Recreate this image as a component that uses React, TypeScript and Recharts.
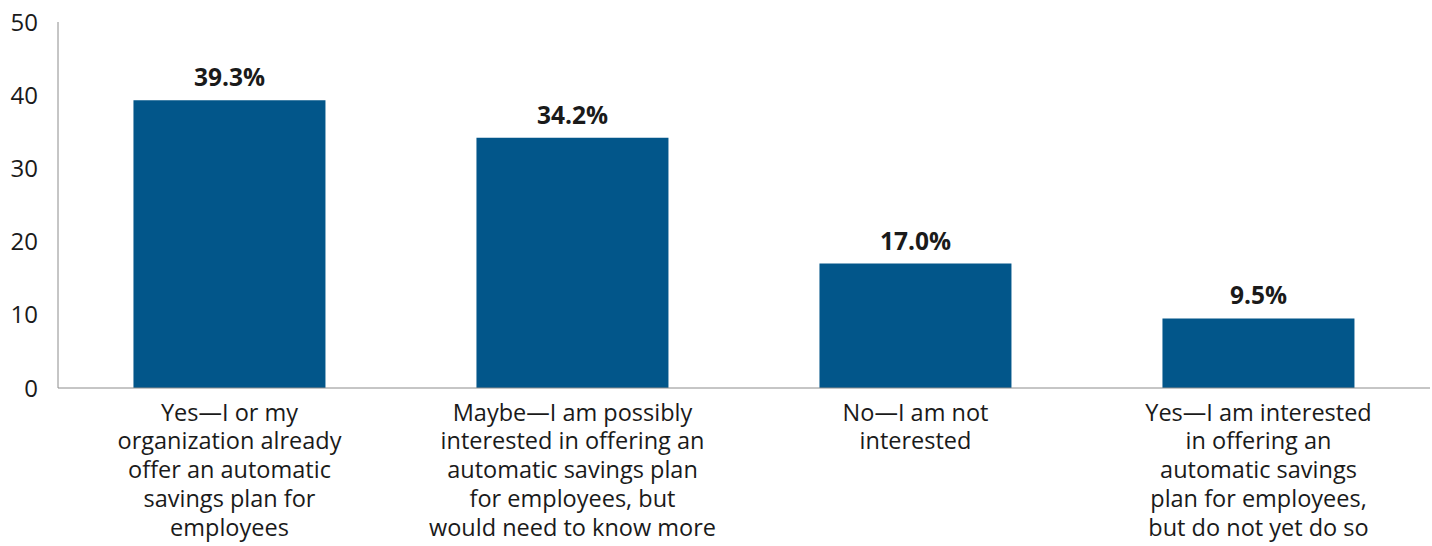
import React from "react";
import { Bar, BarChart, LabelList, XAxis, YAxis } from "recharts";

const answers = [
  "Yes—I or my|organization already|offer an automatic|savings plan for|employees",
  "Maybe—I am possibly|interested in offering an|automatic savings plan|for employees, but|would need to know more",
  "No—I am not|interested",
  "Yes—I am interested|in offering an|automatic savings|plan for employees,|but do not yet do so",
];
const shares = [39.3, 34.2, 17.0, 9.5];
const yTicks = [0, 10, 20, 30, 40, 50];

const data = answers.map((answer, i) => ({ answer, share: shares[i] }));

const FONT = "'Open Sans', 'Noto Sans', sans-serif";

function AnswerTick({ x, y, payload }: any) {
  const lines = String(payload.value).split("|");
  return (
    <text x={x} y={y} textAnchor="middle" fontFamily={FONT} fontSize={23.5} fill="#1a1a1a">
      {lines.map((line, i) => (
        <tspan key={i} x={x} dy={i === 0 ? 24.5 : 28.75}>
          {line}
        </tspan>
      ))}
    </text>
  );
}

export default function App() {
  return (
    <div style={{ position: "absolute", left: 0, top: 0, background: "#fff" }}>
      <BarChart
        width={1432}
        height={546}
        data={data}
        margin={{ top: 22, right: 2, bottom: 0, left: 0 }}
        barCategoryGap="22%"
      >
        <XAxis
          dataKey="answer"
          height={158}
          interval={0}
          tickLine={false}
          stroke="#8c8c8c"
          tick={<AnswerTick />}
        />
        <YAxis
          width={58}
          domain={[0, 50]}
          ticks={yTicks}
          tickLine={false}
          tickSize={0}
          tickMargin={20}
          stroke="#8c8c8c"
          tick={{ fill: "#1a1a1a", fontSize: 24, fontFamily: FONT }}
        />
        <Bar dataKey="share" fill="#02568a" isAnimationActive={false}>
          <LabelList
            dataKey="share"
            position="top"
            offset={14}
            formatter={(v: any) => `${Number(v).toFixed(1)}%`}
            style={{ fill: "#1a1a1a", fontSize: 24.5, fontWeight: 700, fontFamily: FONT }}
          />
        </Bar>
      </BarChart>
    </div>
  );
}
